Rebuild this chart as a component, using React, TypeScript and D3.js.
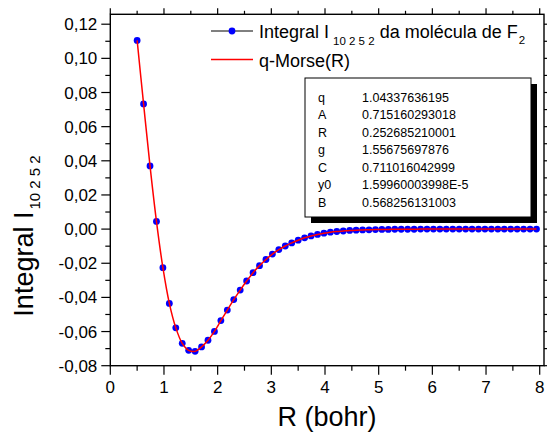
import React from "react";
import * as d3 from "d3";

const xValues = [
  0.5, 0.62, 0.74, 0.86, 0.98, 1.1, 1.22, 1.34, 1.46, 1.58, 1.7, 1.82, 1.94, 2.06, 2.18, 2.3,
  2.42, 2.54, 2.66, 2.78, 2.9, 3.02, 3.14, 3.26, 3.38, 3.5, 3.62, 3.74, 3.86, 3.98, 4.1, 4.22,
  4.34, 4.46, 4.58, 4.7, 4.82, 4.94, 5.06, 5.18, 5.3, 5.42, 5.54, 5.66, 5.78, 5.9, 6.02, 6.14,
  6.26, 6.38, 6.5, 6.62, 6.74, 6.86, 6.98, 7.1, 7.22, 7.34, 7.46, 7.58, 7.7, 7.82, 7.94,
];
const integralValues = [
  0.1105, 0.0733, 0.037, 0.0045, -0.0226, -0.0435, -0.0578, -0.0669, -0.071, -0.0716, -0.069,
  -0.0651, -0.0599, -0.0536, -0.0474, -0.0413, -0.0357, -0.0304, -0.0255, -0.0214, -0.0178,
  -0.0146, -0.012, -0.0099, -0.0081, -0.0065, -0.0051, -0.004, -0.0031, -0.0024, -0.0018,
  -0.0014, -0.0011, -0.0008, -0.0006, -0.0005, -0.0004, -0.0003, -0.0002, -0.0002, -0.0001,
  -0.0001, -0.0001, -0.0001, 0, 0, 0, 0, 0, 0, 0, 0, 0, 0, 0, 0, 0, 0, 0, 0, 0, 0, 0,
];
const xMajorTicks = [0, 1, 2, 3, 4, 5, 6, 7, 8];
const xMinorTicks = [0.5, 1.5, 2.5, 3.5, 4.5, 5.5, 6.5, 7.5];
const yMajorTicks = [-0.08, -0.06, -0.04, -0.02, 0, 0.02, 0.04, 0.06, 0.08, 0.1, 0.12];
const yMinorTicks = [-0.07, -0.05, -0.03, -0.01, 0.01, 0.03, 0.05, 0.07, 0.09, 0.11];
const paramNames = ["q", "A", "R", "g", "C", "y0", "B"];
const paramValues = [
  "1.04337636195",
  "0.715160293018",
  "0.252685210001",
  "1.55675697876",
  "0.711016042999",
  "1.59960003998E-5",
  "0.568256131003",
];

const FONT = "'Liberation Sans', Arial, Helvetica, sans-serif";

export default function App() {
  const W = 547;
  const H = 432;
  const L = 110.3, R = 544, T = 14.3, B = 365.7;
  const x = d3.scaleLinear().domain([0, 8.08]).range([L, R]);
  const y = d3.scaleLinear().domain([-0.08, 0.1258]).range([B, T]);
  const data = xValues.map((v, i) => [v, integralValues[i]] as [number, number]);
  const line = d3
    .line<[number, number]>()
    .x((d) => x(d[0]))
    .y((d) => y(d[1]))
    .curve(d3.curveCatmullRom.alpha(0.5));
  const fmt = (v: number) => d3.format(".2f")(v).replace(".", ",").replace("−", "-");
  const MAJ = 9, MIN = 5;

  return (
    <svg
      width={W}
      height={H}
      style={{ position: "absolute", left: 0, top: 0, background: "#fff" }}
      fontFamily={FONT}
    >
      <rect x={0} y={0} width={W} height={H} fill="#fff" />
      {/* data */}
      <g>
        {data.map((d, i) => (
          <circle key={i} cx={x(d[0])} cy={y(d[1])} r={3.4} fill="#0000ff" />
        ))}
      </g>
      <path d={line(data) || ""} fill="none" stroke="#ff0000" strokeWidth={1.5} />

      {/* frame */}
      <rect x={L} y={T} width={R - L} height={B - T} fill="none" stroke="#000" strokeWidth={1.4} />
      {/* x ticks bottom & top */}
      {xMajorTicks.map((t) => (
        <g key={"xM" + t}>
          <line x1={x(t)} x2={x(t)} y1={B} y2={B + MAJ} stroke="#000" strokeWidth={1.2} />
          <line x1={x(t)} x2={x(t)} y1={T} y2={T - 6} stroke="#000" strokeWidth={1.2} />
          <text x={x(t)} y={B + 27} fontSize={17} textAnchor="middle">
            {t}
          </text>
        </g>
      ))}
      {xMinorTicks.map((t) => (
        <g key={"xm" + t}>
          <line x1={x(t)} x2={x(t)} y1={B} y2={B + MIN} stroke="#000" strokeWidth={1.2} />
          <line x1={x(t)} x2={x(t)} y1={T} y2={T - 3.5} stroke="#000" strokeWidth={1.2} />
        </g>
      ))}
      {/* y ticks left & right */}
      {yMajorTicks.map((t) => (
        <g key={"yM" + t}>
          <line x1={L} x2={L - MAJ} y1={y(t)} y2={y(t)} stroke="#000" strokeWidth={1.2} />
          <line x1={R} x2={R + MAJ} y1={y(t)} y2={y(t)} stroke="#000" strokeWidth={1.2} />
          <text x={L - 13} y={y(t) + 6} fontSize={17} textAnchor="end">
            {fmt(t)}
          </text>
        </g>
      ))}
      {yMinorTicks.map((t) => (
        <g key={"ym" + t}>
          <line x1={L} x2={L - MIN} y1={y(t)} y2={y(t)} stroke="#000" strokeWidth={1.2} />
          <line x1={R} x2={R + MIN} y1={y(t)} y2={y(t)} stroke="#000" strokeWidth={1.2} />
        </g>
      ))}

      {/* axis titles */}
      <text x={327} y={426} fontSize={27} textAnchor="middle">
        R (bohr)
      </text>
      <text transform="translate(33, 236) rotate(-90)" fontSize={27} textAnchor="middle">
        Integral I
        <tspan fontSize={15} dy={7} dx={2}>
          10 2 5 2
        </tspan>
      </text>

      {/* legend */}
      <g>
        <line x1={211} x2={253} y1={31} y2={31} stroke="#000" strokeWidth={1} />
        <circle cx={232} cy={31} r={3.4} fill="#0000ff" />
        <text x={259} y={37.5} fontSize={18}>
          Integral I
          <tspan fontSize={11.5} dy={7} dx={4}>
            10 2 5 2
          </tspan>
          <tspan dy={-7}> da molécula de F</tspan>
          <tspan fontSize={11.5} dy={6} dx={1}>
            2
          </tspan>
        </text>
        <line x1={211} x2={253} y1={59.5} y2={59.5} stroke="#ff0000" strokeWidth={1.5} />
        <text x={259} y={66.5} fontSize={18}>
          q-Morse(R)
        </text>
      </g>

      {/* parameter table */}
      <g>
        <rect x={311} y={84} width={226} height={139} fill="#000" />
        <rect x={305} y={78} width={226} height={139} fill="#fff" stroke="#000" strokeWidth={1} />
        {paramNames.map((n, i) => (
          <g key={n}>
            <text x={318} y={101.5 + i * 17.5} fontSize={12.5}>
              {n}
            </text>
            <text x={362} y={101.5 + i * 17.5} fontSize={12.5}>
              {paramValues[i]}
            </text>
          </g>
        ))}
      </g>
    </svg>
  );
}
